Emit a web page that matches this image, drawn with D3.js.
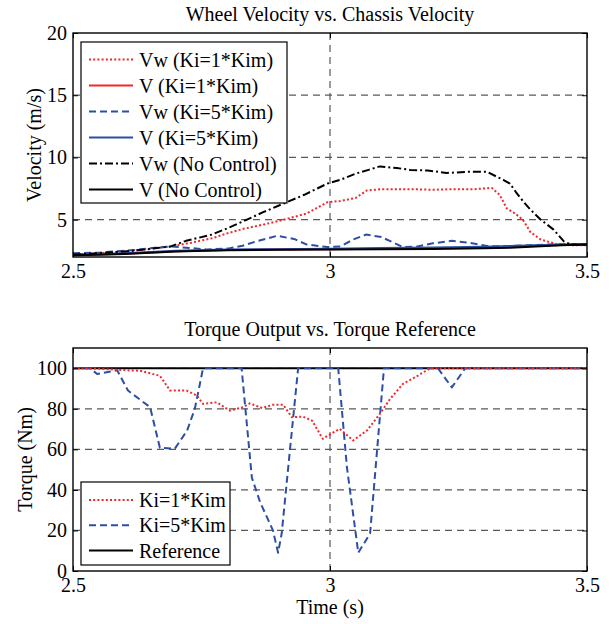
<!DOCTYPE html>
<html><head><meta charset="utf-8">
<script src="https://cdn.jsdelivr.net/npm/d3@7"></script>
<style>
body{margin:0;background:#fff}
svg text{font-family:"Liberation Serif","Tinos","Times New Roman","Nimbus Roman","DejaVu Serif",serif !important;fill:#000}
</style>
</head><body>
<svg id="c" width="615" height="624"></svg>
<script>
// ---------- Data ----------
const xTicks = [2.5, 3, 3.5];
const xTickLabels = ["2.5", "3", "3.5"];
const velTicks = [5, 10, 15, 20];
const torqueTicks = [0, 20, 40, 60, 80, 100];

// Top panel: wheel / chassis velocity (m/s)
const tVwNC  = [2.5, 2.55, 2.6, 2.65, 2.69, 2.72, 2.77, 2.8, 2.83, 2.87, 2.91, 2.95, 2.995, 3.02, 3.05, 3.075, 3.097, 3.13, 3.156, 3.19, 3.227, 3.27, 3.305, 3.337, 3.35, 3.362, 3.376, 3.39, 3.41, 3.435, 3.455, 3.47, 3.5];
const vwNC   = [2.2, 2.3, 2.45, 2.65, 2.85, 3.3, 3.8, 4.3, 4.85, 5.6, 6.3, 7.0, 7.9, 8.2, 8.7, 9.0, 9.28, 9.15, 9.0, 8.95, 8.75, 8.85, 8.85, 8.2, 7.9, 7.2, 6.46, 5.8, 5.0, 4.2, 3.25, 3.0, 2.97];

const tVwK1  = [2.5, 2.55, 2.6, 2.65, 2.69, 2.73, 2.77, 2.8, 2.83, 2.87, 2.91, 2.955, 2.995, 3.02, 3.05, 3.072, 3.1, 3.16, 3.2, 3.24, 3.28, 3.315, 3.33, 3.344, 3.36, 3.375, 3.39, 3.41, 3.44, 3.47, 3.5];
const vwK1   = [2.2, 2.3, 2.45, 2.65, 2.85, 3.15, 3.5, 3.9, 4.25, 4.6, 5.0, 5.5, 6.4, 6.5, 6.75, 7.35, 7.45, 7.45, 7.4, 7.45, 7.45, 7.55, 7.0, 5.9, 5.5, 5.0, 4.0, 3.4, 3.05, 2.95, 2.95];

const tVwK5  = [2.5, 2.55, 2.6, 2.624, 2.66, 2.69, 2.72, 2.76, 2.805, 2.83, 2.86, 2.897, 2.93, 2.955, 2.995, 3.02, 3.045, 3.07, 3.1, 3.142, 3.17, 3.2, 3.237, 3.27, 3.311, 3.36, 3.42, 3.5];
const vwK5   = [2.3, 2.35, 2.5, 2.58, 2.75, 2.85, 2.75, 2.6, 2.7, 2.9, 3.3, 3.7, 3.45, 3.0, 2.8, 2.85, 3.4, 3.8, 3.6, 2.8, 2.85, 3.1, 3.3, 3.15, 2.85, 2.9, 3.0, 3.05];

const tV     = [2.5, 2.55, 2.6, 2.65, 2.7, 2.8, 2.9, 3.0, 3.1, 3.2, 3.3, 3.35, 3.4, 3.45, 3.5];
const vNC    = [2.15, 2.18, 2.25, 2.35, 2.45, 2.55, 2.58, 2.6, 2.62, 2.65, 2.7, 2.75, 2.85, 2.95, 3.0];
const vK1    = [2.17, 2.2, 2.27, 2.37, 2.47, 2.57, 2.6, 2.63, 2.66, 2.7, 2.75, 2.8, 2.9, 2.97, 3.0];
const vK5    = [2.2, 2.24, 2.3, 2.4, 2.5, 2.6, 2.63, 2.67, 2.72, 2.77, 2.82, 2.88, 2.95, 3.0, 3.02];

// Bottom panel: torque (Nm)
const tTqK1  = [2.5, 2.55, 2.605, 2.63, 2.669, 2.689, 2.721, 2.741, 2.753, 2.78, 2.805, 2.831, 2.844, 2.868, 2.889, 2.909, 2.926, 2.947, 2.965, 2.986, 2.996, 3.019, 3.045, 3.072, 3.097, 3.117, 3.142, 3.165, 3.195, 3.5];
const tqK1   = [100, 99.8, 99, 98.8, 96.3, 89, 89, 86.5, 82.4, 83.2, 79.1, 80.8, 82.7, 80.4, 82, 82, 75.8, 76.2, 74.2, 65.2, 66.8, 70.1, 64.4, 69.3, 77.5, 84.9, 92.3, 95.5, 100, 100];

const tTqK5  = [2.5, 2.533, 2.547, 2.586, 2.607, 2.65, 2.669, 2.698, 2.722, 2.737, 2.753, 2.828, 2.848, 2.864, 2.889, 2.899, 2.906, 2.922, 2.938, 3.016, 3.033, 3.055, 3.078, 3.105, 3.21, 3.237, 3.263, 3.5];
const tqK5   = [100, 100, 97.2, 99, 89, 80.8, 60.8, 60.3, 69.3, 80, 100, 100, 46, 34, 20, 9, 18.5, 59.5, 100, 100, 51, 9, 18.5, 100, 100, 90.6, 100, 100];

const tRef   = [2.5, 3.5];
const tqRef  = [100, 100];

const velLegend = ["Vw (Ki=1*Kim)", "V (Ki=1*Kim)", "Vw (Ki=5*Kim)", "V (Ki=5*Kim)", "Vw (No Control)", "V (No Control)"];
const tqLegend  = ["Ki=1*Kim", "Ki=5*Kim", "Reference"];

// ---------- Styles ----------
const FONT = '"Liberation Serif","Tinos","Times New Roman","Nimbus Roman","DejaVu Serif",serif';
const RED = "#f0282a", BLUE = "#2d4fa3", BLACK = "#000";
const styles = {
  dot:  {dash: "2,2.2", w: 2},
  dash: {dash: "7,4", w: 2},
  dashdot: {dash: "8,3,2,3", w: 2},
  solid: {dash: null, w: 2}
};

const svg = d3.select("#c");
const L = 73, R = 587;

function txt(sel) { return sel.style("font-family", FONT).attr("fill", "#000"); }

function panel(top, bottom, yDomain, yTicks, series, title, ylabel, ylabelX, legendItems, legendBox) {
  const x = d3.scaleLinear().domain([2.5, 3.5]).range([L, R]);
  const y = d3.scaleLinear().domain(yDomain).range([bottom, top]);
  const g = svg.append("g");

  // grid
  const gridY = yTicks.filter(v => v > yDomain[0] && v < yDomain[1]);
  g.selectAll(".gy").data(gridY).enter().append("line")
    .attr("x1", L).attr("x2", R).attr("y1", d => y(d)).attr("y2", d => y(d))
    .attr("stroke", "#5a5a5a").attr("stroke-width", 1.2).attr("stroke-dasharray", "7,5");
  g.selectAll(".gx").data(xTicks.filter(v => v > 2.5 && v < 3.5)).enter().append("line")
    .attr("y1", top).attr("y2", bottom).attr("x1", d => x(d)).attr("x2", d => x(d))
    .attr("stroke", "#5a5a5a").attr("stroke-width", 1.2).attr("stroke-dasharray", "7,5");

  // series
  const line = d3.line().x(d => x(d[0])).y(d => y(d[1]));
  series.forEach(s => {
    const pts = s.t.map((tv, i) => [tv, s.v[i]]);
    g.append("path").datum(pts).attr("d", line).attr("fill", "none")
      .attr("stroke", s.color).attr("stroke-width", styles[s.style].w)
      .attr("stroke-dasharray", styles[s.style].dash)
      .attr("stroke-linejoin", "round");
  });

  // axes (inside ticks)
  const fmtX = (d, i) => xTickLabels[i];
  g.append("g").attr("transform", `translate(0,${bottom})`)
    .call(d3.axisBottom(x).tickValues(xTicks).tickSize(-5).tickSizeOuter(0).tickPadding(7).tickFormat(fmtX));
  g.append("g").attr("transform", `translate(0,${top})`)
    .call(d3.axisTop(x).tickValues(xTicks).tickSize(-5).tickSizeOuter(0).tickFormat(""));
  g.append("g").attr("transform", `translate(${L},0)`)
    .call(d3.axisLeft(y).tickValues(yTicks).tickSize(-5).tickSizeOuter(0).tickPadding(6).tickFormat(d3.format("d")));
  g.append("g").attr("transform", `translate(${R},0)`)
    .call(d3.axisRight(y).tickValues(yTicks).tickSize(-5).tickSizeOuter(0).tickFormat(""));
  g.selectAll(".domain").remove();
  g.selectAll(".tick line").attr("stroke", "#000").attr("stroke-width", 1);
  g.selectAll("g").attr("font-family", null).attr("font-size", null);
  txt(g.selectAll(".tick text")).attr("font-size", 20);

  // box
  g.append("rect").attr("x", L).attr("y", top).attr("width", R - L).attr("height", bottom - top)
    .attr("fill", "none").attr("stroke", "#000").attr("stroke-width", 1.4);

  // title
  txt(svg.append("text")).attr("x", (L + R) / 2).attr("y", top - 12).attr("text-anchor", "middle")
    .attr("font-size", 20).text(title);
  // y label
  txt(svg.append("text")).attr("transform", `translate(${ylabelX},${(top + bottom) / 2}) rotate(-90)`)
    .attr("text-anchor", "middle").attr("dominant-baseline", "central").attr("font-size", 20).text(ylabel);

  // legend
  const lg = svg.append("g");
  lg.append("rect").attr("x", legendBox.x).attr("y", legendBox.y).attr("width", legendBox.w).attr("height", legendBox.h)
    .attr("fill", "#fff").attr("stroke", "#000").attr("stroke-width", 1.2);
  legendItems.forEach((s, i) => {
    const yy = legendBox.y + legendBox.first + i * legendBox.step;
    lg.append("line").attr("x1", legendBox.x + 8).attr("x2", legendBox.x + 52).attr("y1", yy).attr("y2", yy)
      .attr("stroke", s.color).attr("stroke-width", styles[s.style].w).attr("stroke-dasharray", styles[s.style].dash);
    txt(lg.append("text")).attr("x", legendBox.x + 58).attr("y", yy).attr("dominant-baseline", "central")
      .attr("font-size", 20).text(s.label);
  });
  return {x, y};
}

const velSeries = [
  {t: tVwK1, v: vwK1, color: RED, style: "dot", label: velLegend[0]},
  {t: tV, v: vK1, color: RED, style: "solid", label: velLegend[1]},
  {t: tVwK5, v: vwK5, color: BLUE, style: "dash", label: velLegend[2]},
  {t: tV, v: vK5, color: BLUE, style: "solid", label: velLegend[3]},
  {t: tVwNC, v: vwNC, color: BLACK, style: "dashdot", label: velLegend[4]},
  {t: tV, v: vNC, color: BLACK, style: "solid", label: velLegend[5]}
];
const tqSeries = [
  {t: tTqK1, v: tqK1, color: RED, style: "dot", label: tqLegend[0]},
  {t: tTqK5, v: tqK5, color: BLUE, style: "dash", label: tqLegend[1]},
  {t: tRef, v: tqRef, color: BLACK, style: "solid", label: tqLegend[2]}
];

panel(33, 257, [2, 20], velTicks, velSeries, "Wheel Velocity vs. Chassis Velocity", "Velocity (m/s)", 34,
  velSeries, {x: 81, y: 42, w: 206, h: 161, first: 17.5, step: 26});
panel(348, 571, [0, 110], torqueTicks, tqSeries.slice().reverse(), "Torque Output vs. Torque Reference", "Torque (Nm)", 25,
  tqSeries, {x: 81, y: 482, w: 149, h: 83, first: 18, step: 25.3});

txt(svg.append("text")).attr("x", 330).attr("y", 614).attr("text-anchor", "middle").attr("font-size", 20).text("Time (s)");
</script>
</body></html>
